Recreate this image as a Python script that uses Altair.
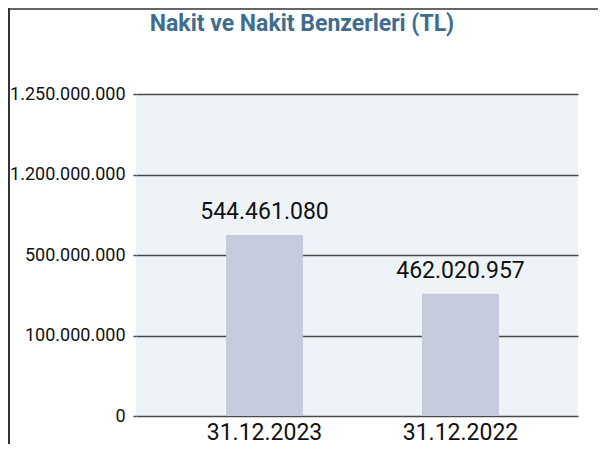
import altair as alt
import pandas as pd

# Data (bar heights are in the chart's own axis steps)
categories = ["31.12.2023", "31.12.2022"]
bar_heights = [2.25, 1.52]
bar_labels = ["544.461.080", "462.020.957"]
tick_positions = [0, 1, 2, 3, 4]
tick_labels = ["0", "100.000.000", "500.000.000", "1.200.000.000", "1.250.000.000"]

df = pd.DataFrame({"donem": categories, "deger": bar_heights, "etiket": bar_labels})

label_map = "{" + ",".join(f"'{p}':'{l}'" for p, l in zip(tick_positions, tick_labels)) + "}"

W, H = 442, 322
PAD_L, PAD_T, PAD_R, PAD_B = 128, 86, 20, 28

x = alt.X(
    "donem:N",
    sort=None,
    title=None,
    scale=alt.Scale(paddingInner=0, paddingOuter=0.1276, align=0.61),
    axis=alt.Axis(
        labelAngle=0, labelFont="Roboto", labelFontSize=23, labelColor="#111111",
        ticks=False, domain=False, labelPadding=5,
    ),
)
y = alt.Y(
    "deger:Q",
    title=None,
    scale=alt.Scale(domain=[0, 4], nice=False),
    axis=alt.Axis(
        values=tick_positions,
        labelExpr=f"{label_map}[datum.value]",
        labelFont="Roboto", labelFontSize=18, labelColor="#111111",
        labelPadding=8, tickSize=3, tickColor="#4a4a4a", tickWidth=1.5,
        grid=True, gridColor="#4a4a4a", gridWidth=1.5, domain=False,
    ),
)

base = alt.Chart(df)
bars = base.mark_bar(size=77, color="#C5CADD").encode(x=x, y=y)
texts = base.mark_text(
    font="Roboto", fontSize=23, color="#111111", baseline="alphabetic", dy=-16
).encode(x=alt.X("donem:N", sort=None), y="deger:Q", text="etiket:N")

frame_data = alt.Data(values=[{"k": 1}])
left_border = alt.Chart(frame_data).mark_rule(color="#333333", strokeWidth=2).encode(
    x=alt.value(-127), y=alt.value(-PAD_T), y2=alt.value(H + PAD_B)
)
top_border = alt.Chart(frame_data).mark_rule(color="#333333", strokeWidth=1.5).encode(
    x=alt.value(-PAD_L), x2=alt.value(W + PAD_R), y=alt.value(-PAD_T + 1)
)

chart = alt.layer(bars, texts, left_border, top_border).properties(
    width=W,
    height=H,
    autosize=alt.AutoSizeParams(type="none"),
    padding={"left": PAD_L, "top": PAD_T, "right": PAD_R, "bottom": PAD_B},
    view=alt.ViewBackground(fill="#EEF3F8", stroke=None),
    title=alt.TitleParams(
        "Nakit ve Nakit Benzerleri (TL)",
        font="Roboto", fontSize=23, fontWeight="bold", color="#3E6D8E",
        anchor="middle", dx=-55, dy=29, offset=0,
    ),
).configure(background="white")

chart.save("out.html", embed_options={"renderer": "svg", "actions": False})
